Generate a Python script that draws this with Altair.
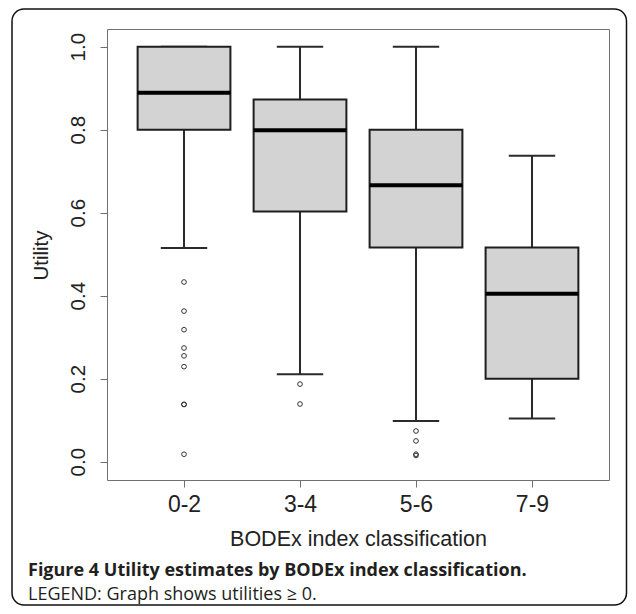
import altair as alt
import pandas as pd

# ---- data ----
categories = ["0-2", "3-4", "5-6", "7-9"]
positions = [1, 2, 3, 4]
lower_whisker = [0.515, 0.211, 0.098, 0.104]
q1 = [0.800, 0.603, 0.516, 0.200]
median = [0.889, 0.799, 0.666, 0.405]
q3 = [1.000, 0.873, 0.800, 0.516]
upper_whisker = [1.000, 1.000, 1.000, 0.737]

outlier_pos = [1, 1, 1, 1, 1, 1, 1, 1, 1, 2, 2, 3, 3, 3, 3]
outlier_val = [0.433, 0.363, 0.318, 0.274, 0.255, 0.229, 0.138, 0.138, 0.018,
               0.187, 0.139, 0.074, 0.050, 0.015, 0.018]

y_ticks = [0.0, 0.2, 0.4, 0.6, 0.8, 1.0]
x_title = "BODEx index classification"
y_title = "Utility"
caption_bold = "Figure 4 Utility estimates by BODEx index classification."
caption_text = "LEGEND: Graph shows utilities \u2265 0."

box_half = 0.4
cap_half = 0.2

boxes = pd.DataFrame({
    "cat": categories, "pos": positions, "lw": lower_whisker, "q1": q1,
    "med": median, "q3": q3, "uw": upper_whisker,
})
boxes["left"] = boxes["pos"] - box_half
boxes["right"] = boxes["pos"] + box_half
boxes["cleft"] = boxes["pos"] - cap_half
boxes["cright"] = boxes["pos"] + cap_half
outliers = pd.DataFrame({"pos": outlier_pos, "val": outlier_val})

W, H = 502, 451
FONT = "Liberation Sans"

label_js = "[" + ",".join(["''"] + [f"'{c}'" for c in categories]) + "]"

xscale = alt.Scale(domain=[0.336, 4.664], nice=False, zero=False)
yscale = alt.Scale(domain=[-0.0441, 1.0427], nice=False, zero=False)

x_axis = alt.Axis(values=positions, labelExpr=f"{label_js}[datum.value]",
                  title=x_title, labelFontSize=23, labelFont=FONT,
                  labelBaseline="alphabetic", labelPadding=24, tickSize=7,
                  titleFont=FONT, titleFontSize=21.5, titleFontWeight="normal",
                  titleX=251, titleY=65, titleBaseline="alphabetic",
                  titleAnchor="middle", titleAlign="center",
                  domain=False, grid=False, tickColor="#707070",
                  labelColor="#222222", titleColor="#222222")
y_axis = alt.Axis(values=y_ticks, format=".1f", title=y_title,
                  labelAngle=270, labelAlign="center", labelBaseline="alphabetic",
                  labelFontSize=20.5, labelFont=FONT, labelPadding=16, tickSize=7,
                  titleFont=FONT, titleFontSize=20.5, titleFontWeight="normal",
                  titleAngle=270, titleX=-60, titleY=226, titleAlign="center",
                  titleBaseline="alphabetic",
                  domain=False, grid=False, tickColor="#707070",
                  labelColor="#222222", titleColor="#222222")

base = alt.Chart(boxes)

border = alt.Chart(pd.DataFrame({"a": [0]})).mark_rect(
    fillOpacity=0, stroke="#111111", strokeWidth=1.5, cornerRadius=12
).encode(x=alt.value(-95), x2=alt.value(519.5), y=alt.value(-20), y2=alt.value(576))

whisk_hi = base.mark_rule(color="#2a2a2a", strokeWidth=2).encode(
    x=alt.X("pos:Q", scale=xscale, axis=x_axis),
    y=alt.Y("q3:Q", scale=yscale, axis=y_axis), y2="uw:Q")
whisk_lo = base.mark_rule(color="#2a2a2a", strokeWidth=2).encode(
    x="pos:Q", y="lw:Q", y2="q1:Q")
cap_hi = base.mark_rule(color="#2a2a2a", strokeWidth=2).encode(
    x="cleft:Q", x2="cright:Q", y="uw:Q")
cap_lo = base.mark_rule(color="#2a2a2a", strokeWidth=2).encode(
    x="cleft:Q", x2="cright:Q", y="lw:Q")
box = base.mark_rect(fill="#d3d3d3", stroke="#1e1e1e", strokeWidth=2).encode(
    x="left:Q", x2="right:Q", y="q1:Q", y2="q3:Q")
med = base.mark_rule(color="#000000", strokeWidth=4).encode(
    x="left:Q", x2="right:Q", y="med:Q")
pts = alt.Chart(outliers).mark_point(
    shape="circle", filled=False, size=22, color="#333333", strokeWidth=1, opacity=1
).encode(x="pos:Q", y="val:Q")

cap1 = alt.Chart(pd.DataFrame({"t": [caption_bold]})).mark_text(
    align="left", baseline="middle", font="Open Sans", fontSize=18,
    fontWeight="bold", color="#231f20"
).encode(x=alt.value(-79), y=alt.value(542), text="t:N")
cap2 = alt.Chart(pd.DataFrame({"t": [caption_text]})).mark_text(
    align="left", baseline="middle", font="Open Sans", fontSize=18,
    color="#231f20"
).encode(x=alt.value(-79), y=alt.value(566), text="t:N")

chart = alt.layer(border, whisk_hi, whisk_lo, cap_hi, cap_lo, box, med, pts, cap1, cap2).properties(
    width=W, height=H,
    autosize=alt.AutoSizeParams(type="none"),
    padding={"left": 99, "top": 21, "right": 19, "bottom": 126},
).configure_view(stroke="#707070", strokeWidth=1)

chart.save("out.html", embed_options={"renderer": "svg", "actions": False})
